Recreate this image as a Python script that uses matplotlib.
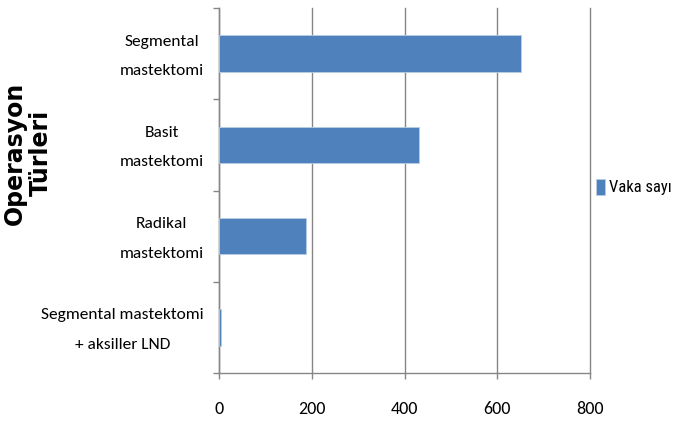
import matplotlib
matplotlib.use("Agg")
from matplotlib import pyplot as plt
import numpy as np

operasyonlar = ['Segmental\nmastektomi', 'Basit\nmastektomi', 'Radikal\nmastektomi',
                'Segmental mastektomi\n+ aksiller LND']
vaka_sayisi = [651, 431, 188, 4]
x_ticks = [0, 200, 400, 600, 800]
seri_adi = 'Vaka sayıl'

label_font = ['Carlito', 'DejaVu Sans']
legend_font = ['Roboto Condensed', 'DejaVu Sans']
grey = '#868686'

fig = plt.figure(figsize=(6.73, 4.24), dpi=100)
ax = fig.add_axes([219 / 673, 1 - 373 / 424, 371 / 673, 365 / 424])

y = np.arange(len(operasyonlar))
ax.barh(y, vaka_sayisi, height=0.4, color='#4F81BD', edgecolor='#b9cde5',
        linewidth=0.6, label=seri_adi, zorder=3)

ax.set_xlim(0, 800)
ax.set_ylim(len(operasyonlar) - 0.5, -0.5)
ax.set_xticks(x_ticks)
ax.set_xticklabels([str(v) for v in x_ticks], fontfamily=label_font, fontsize=13)
# two-line labels sit a little high so the pair is centred on the bar
ax.set_yticks(y - 0.07)
ax.set_yticklabels(operasyonlar, fontfamily=label_font, fontsize=12.5,
                   multialignment='center', linespacing=2.4)
# category boundaries get the small tick marks
ax.set_yticks(np.arange(len(operasyonlar) + 1) - 0.5, minor=True)

ax.grid(axis='x', color=grey, linewidth=1.0, zorder=0)
for line in ax.get_xgridlines():
    line.set_clip_on(False)
for side in ['top', 'right']:
    ax.spines[side].set_visible(False)
for side in ['left', 'bottom']:
    ax.spines[side].set_color(grey)
    ax.spines[side].set_linewidth(1.0)

ax.tick_params(axis='y', which='major', length=0, pad=11)
ax.tick_params(axis='y', which='minor', length=4.5, color=grey, width=1.0)
ax.tick_params(axis='x', length=4, color=grey, width=1.0, pad=16)

fig.text(28 / 673, 1 - 153 / 424, 'Operasyon\nTürleri', rotation=90,
         ha='center', va='center', multialignment='center',
         fontfamily='DejaVu Sans', fontweight='bold', fontsize=17,
         linespacing=1.1)

ax.legend(loc='center left', bbox_to_anchor=(596 / 673, 1 - 187 / 424),
          bbox_transform=fig.transFigure, frameon=False, borderpad=0,
          borderaxespad=0, handlelength=0.55, handleheight=1.1,
          handletextpad=0.25, prop={'family': legend_font, 'size': 12})

fig.savefig('out.png', dpi=100)
